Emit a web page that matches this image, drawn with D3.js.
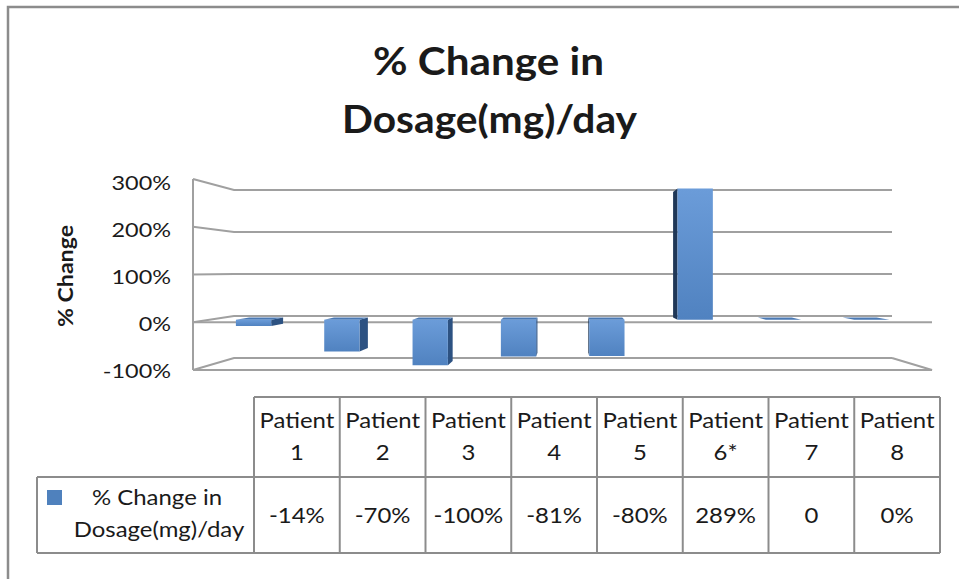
<!DOCTYPE html>
<html>
<head>
<meta charset="utf-8">
<script src="https://cdn.jsdelivr.net/npm/d3@7"></script>
<style>
  body { margin: 0; background: #fff; }
  svg text { font-family: Lato, "Open Sans", sans-serif; fill: #1a1a1a; }
</style>
</head>
<body>
<div id="chart"></div>
<script>
// chart data
const categories = ["Patient 1", "Patient 2", "Patient 3", "Patient 4", "Patient 5", "Patient 6*", "Patient 7", "Patient 8"];
const values = [-14, -70, -100, -81, -80, 289, 0, 0];
const valueLabels = ["-14%", "-70%", "-100%", "-81%", "-80%", "289%", "0", "0%"];
const yTicks = [-100, 0, 100, 200, 300];
const seriesLines = ["% Change in", "Dosage(mg)/day"];
const titleLines = ["% Change in", "Dosage(mg)/day"];

const width = 959, height = 579;

const svg = d3.select("#chart").append("svg")
    .attr("width", width)
    .attr("height", height);

// stretch text horizontally (source image is wider than the font)
function stretch(sel, k) {
    sel.each(function () {
        const w = this.getComputedTextLength();
        d3.select(this).attr("textLength", w * k).attr("lengthAdjust", "spacingAndGlyphs");
    });
}

// outer chart frame
svg.append("rect")
    .attr("x", 8).attr("y", 7)
    .attr("width", 1000).attr("height", 1000)
    .attr("fill", "none")
    .attr("stroke", "#8c8c8c")
    .attr("stroke-width", 2.5);

// Title
const title = svg.append("g").attr("font-weight", "bold");
title.append("text")
    .attr("x", 488.5).attr("y", 75)
    .attr("text-anchor", "middle")
    .attr("font-size", "39px")
    .attr("textLength", 231).attr("lengthAdjust", "spacingAndGlyphs")
    .style("font-weight", "bold")
    .text(titleLines[0]);
title.append("text")
    .attr("x", 489.5).attr("y", 133)
    .attr("text-anchor", "middle")
    .attr("font-size", "39px")
    .attr("textLength", 295).attr("lengthAdjust", "spacingAndGlyphs")
    .style("font-weight", "bold")
    .text(titleLines[1]);

// 3D projection: front plane and back plane scales
const yFront = d3.scaleLinear().domain([-100, 300]).range([370, 179]);
const yBack = d3.scaleLinear().domain([-100, 300]).range([358, 190]);
const xFront = d3.scaleLinear().domain([0, 1]).range([193, 932]);
const xBack = d3.scaleLinear().domain([0, 1]).range([234, 892]);

const band = d3.scaleBand().domain(categories).range([0, 1])
    .paddingInner(0.6).paddingOuter(0.3);

function P(u, v, d) {
    return [
        xFront(u) * (1 - d) + xBack(u) * d,
        yFront(v) * (1 - d) + yBack(v) * d
    ];
}

const grid = svg.append("g")
    .attr("fill", "none")
    .attr("stroke", "#a0a0a0")
    .attr("stroke-width", 2);

// side wall + back wall gridlines
yTicks.forEach(v => {
    grid.append("polyline")
        .attr("points", [P(0, v, 0), P(0, v, 1), P(1, v, 1)].map(p => p.join(",")).join(" "));
});
// vertical axis edge
grid.append("line")
    .attr("x1", xFront(0)).attr("x2", xFront(0))
    .attr("y1", yFront(300)).attr("y2", yFront(-100));
// floor front + right edges
grid.append("polyline")
    .attr("points", [P(0, -100, 0), P(1, -100, 0), P(1, -100, 1)].map(p => p.join(",")).join(" "));
// zero line (category axis)
grid.append("line")
    .attr("x1", xFront(0)).attr("x2", xFront(1))
    .attr("y1", yFront(0)).attr("y2", yFront(0));

// Y axis labels
const yLabel = d3.scaleLinear().domain([-100, 300]).range([371, 183]);
const yAxis = svg.append("g")
    .attr("transform", "translate(171,0)")
    .call(d3.axisLeft(yLabel).tickValues(yTicks).tickSize(0).tickPadding(0)
        .tickFormat(d => d + "%"));
yAxis.select(".domain").remove();
yAxis.selectAll("text")
    .attr("font-size", "20px")
    .attr("fill", "#1a1a1a")
    .style("font-family", "Lato, sans-serif");
stretch(yAxis.selectAll("text"), 1.17);

// Y axis title
svg.append("text")
    .attr("transform", "translate(73,276) rotate(-90)")
    .attr("text-anchor", "middle")
    .attr("font-size", "21px")
    .attr("font-weight", "bold")
    .attr("textLength", 102).attr("lengthAdjust", "spacingAndGlyphs")
    .text("% Change");

// bar gradient
const defs = svg.append("defs");
const grad = defs.append("linearGradient")
    .attr("id", "barFront")
    .attr("x1", "0%").attr("y1", "0%")
    .attr("x2", "0%").attr("y2", "100%");
grad.append("stop").attr("offset", "0%").attr("stop-color", "#6b9cd9");
grad.append("stop").attr("offset", "100%").attr("stop-color", "#5082c0");

// bars
const d1 = 0.4, d2 = 0.75;
const bars = svg.append("g");
categories.forEach((c, i) => {
    const v = values[i];
    const u0 = band(c), u1 = band(c) + band.bandwidth();
    const vTop = Math.max(v, 0), vBot = Math.min(v, 0);
    const g = bars.append("g");
    const poly = pts => pts.map(p => p.join(",")).join(" ");

    // right side face
    if (P(u1, 0, d2)[0] > P(u1, 0, d1)[0] && v !== 0) {
        g.append("polygon")
            .attr("points", poly([P(u1, vTop, d1), P(u1, vTop, d2), P(u1, vBot, d2), P(u1, vBot, d1)]))
            .attr("fill", "#2d5282");
    }
    // left side face
    if (P(u0, 0, d2)[0] < P(u0, 0, d1)[0] && v !== 0) {
        g.append("polygon")
            .attr("points", poly([P(u0, vTop, d1), P(u0, vTop, d2), P(u0, vBot, d2), P(u0, vBot, d1)]))
            .attr("fill", "#1f3757");
    }
    // top face
    if (P(u0, vTop, d2)[1] < P(u0, vTop, d1)[1]) {
        g.append("polygon")
            .attr("points", poly([P(u0, vTop, d1), P(u0, vTop, d2), P(u1, vTop, d2), P(u1, vTop, d1)]))
            .attr("fill", "#4a79b4");
    }
    // front face
    if (v !== 0) {
        g.append("polygon")
            .attr("points", poly([P(u0, vTop, d1), P(u1, vTop, d1), P(u1, vBot, d1), P(u0, vBot, d1)]))
            .attr("fill", "url(#barFront)");
    }
});

// Data table
const colX = d3.scaleBand().domain(categories).range([254, 940]);
const rowTop = 397, rowMid = 477, rowBot = 553, tableLeft = 37;

const table = svg.append("g")
    .attr("stroke", "#8c8c8c")
    .attr("stroke-width", 2)
    .attr("fill", "none");
table.append("line").attr("x1", 254).attr("x2", 940).attr("y1", rowTop).attr("y2", rowTop);
table.append("line").attr("x1", tableLeft).attr("x2", 940).attr("y1", rowMid).attr("y2", rowMid);
table.append("line").attr("x1", tableLeft).attr("x2", 940).attr("y1", rowBot).attr("y2", rowBot);
table.append("line").attr("x1", tableLeft).attr("x2", tableLeft).attr("y1", rowMid).attr("y2", rowBot);
categories.forEach(c => {
    table.append("line").attr("x1", colX(c)).attr("x2", colX(c)).attr("y1", rowTop).attr("y2", rowBot);
});
table.append("line").attr("x1", 940).attr("x2", 940).attr("y1", rowTop).attr("y2", rowBot);

const cellText = svg.append("g")
    .attr("font-size", "21px")
    .attr("text-anchor", "middle");

categories.forEach((c, i) => {
    const cx = colX(c) + colX.bandwidth() / 2;
    const parts = c.split(" ");
    cellText.append("text").attr("x", cx).attr("y", 428).text(parts[0]);
    cellText.append("text").attr("x", cx).attr("y", 460).text(parts[1]);
    cellText.append("text").attr("x", cx).attr("y", 523).text(valueLabels[i]);
});

// legend key + series name
svg.append("rect")
    .attr("x", 47).attr("y", 490)
    .attr("width", 15).attr("height", 15)
    .attr("fill", "#4f81bd");
cellText.append("text").attr("x", 157).attr("y", 505).text(seriesLines[0]);
cellText.append("text").attr("x", 159).attr("y", 537).text(seriesLines[1]);

stretch(cellText.selectAll("text"), 1.14);
</script>
</body>
</html>
